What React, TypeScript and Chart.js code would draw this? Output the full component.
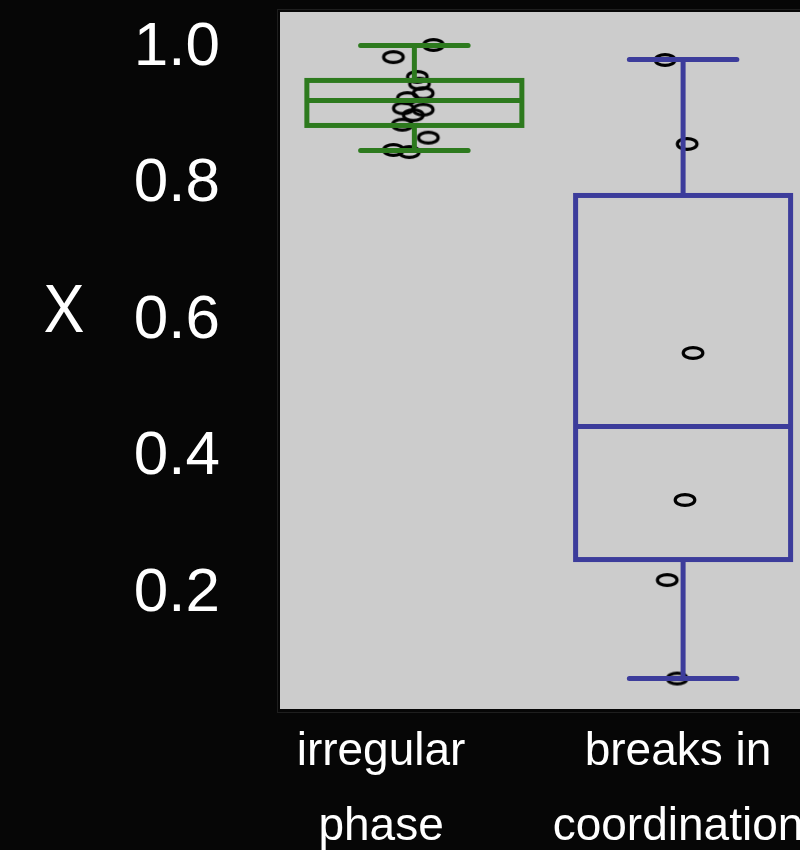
import React, { useEffect, useRef } from "react";
import { Chart, registerables } from "chart.js";
Chart.register(...registerables);

// ---- data ----
const categoryLabels = [["irregular", "phase"], ["breaks in", "coordination"]];
const categoryPositions = [1, 2];
const labelPositions = [0.876, 1.981];
const yTickValues = [0.2, 0.4, 0.6, 0.8, 1.0];
const yAxisTitle = "X";

const irregularValues = [1.0007, 0.983, 0.954, 0.944, 0.93, 0.923, 0.908, 0.906, 0.898, 0.884, 0.865, 0.847, 0.844];
const irregularJitter = [1.071, 0.922, 1.011, 1.019, 1.033, 0.974, 0.959, 1.033, 0.996, 0.955, 1.052, 0.922, 0.981];
const breaksValues = [0.9788, 0.8558, 0.5498, 0.3346, 0.2174, 0.0732];
const breaksJitter = [1.933, 2.015, 2.037, 2.007, 1.941, 1.978];

// [whisker low, q1, median, q3, whisker high]
const irregularBox = [0.8463, 0.8829, 0.9195, 0.9488, 1.0];
const breaksBox = [0.0732, 0.2474, 0.4422, 0.7804, 0.9795];
const boxStats = [irregularBox, breaksBox];
const boxColors = ["#2d7a1e", "#3c3c9b"];

const FONT = "'Liberation Sans', Arial, Helvetica, sans-serif";

function makeEllipse(): HTMLCanvasElement {
  const c = document.createElement("canvas");
  c.width = 28;
  c.height = 18;
  const g = c.getContext("2d")!;
  g.strokeStyle = "#000";
  g.lineWidth = 3.2;
  g.beginPath();
  g.ellipse(14, 9, 9.8, 5.4, 0, 0, Math.PI * 2);
  g.stroke();
  return c;
}

const bgPlugin = {
  id: "bg",
  beforeDraw(chart: any) {
    const { ctx, chartArea: a, width, height } = chart;
    ctx.save();
    ctx.fillStyle = "#060606";
    ctx.fillRect(0, 0, width, height);
    ctx.strokeStyle = "#1e1e1e";
    ctx.lineWidth = 1;
    ctx.strokeRect(a.left - 2.5, a.top - 2.5, a.right - a.left + 10, a.bottom - a.top + 6);
    ctx.fillStyle = "#cccccc";
    ctx.fillRect(a.left, a.top, a.right - a.left, a.bottom - a.top);
    ctx.restore();
  },
  afterDraw(chart: any) {
    const { ctx } = chart;
    ctx.save();
    ctx.fillStyle = "#ffffff";
    ctx.font = "66px 'Noto Sans', " + FONT;
    ctx.textAlign = "center";
    ctx.textBaseline = "alphabetic";
    ctx.fillText(yAxisTitle, 64, 332);
    ctx.restore();
  },
};

const boxPlugin = {
  id: "boxes",
  afterDatasetsDraw(chart: any) {
    const { ctx } = chart;
    const x = chart.scales.x;
    const y = chart.scales.y;
    boxStats.forEach((b, i) => {
      const c = categoryPositions[i];
      const l = x.getPixelForValue(c - 0.4);
      const r = x.getPixelForValue(c + 0.4);
      const cl = x.getPixelForValue(c - 0.2);
      const cr = x.getPixelForValue(c + 0.2);
      const cx = x.getPixelForValue(c);
      const [lo, q1, med, q3, hi] = b.map((v) => y.getPixelForValue(v));
      ctx.save();
      ctx.strokeStyle = boxColors[i];
      ctx.lineWidth = 5;
      ctx.lineJoin = "miter";
      ctx.strokeRect(l, q3, r - l, q1 - q3);
      ctx.beginPath();
      ctx.moveTo(l, med);
      ctx.lineTo(r, med);
      ctx.moveTo(cx, q3);
      ctx.lineTo(cx, hi);
      ctx.moveTo(cx, q1);
      ctx.lineTo(cx, lo);
      ctx.stroke();
      ctx.lineCap = "round";
      ctx.beginPath();
      ctx.moveTo(cl, hi);
      ctx.lineTo(cr, hi);
      ctx.moveTo(cl, lo);
      ctx.lineTo(cr, lo);
      ctx.stroke();
      ctx.restore();
    });
  },
};

export default function App() {
  const ref = useRef<HTMLCanvasElement>(null);
  useEffect(() => {
    document.body.style.margin = "0";
    document.body.style.background = "#060606";
    const ellipse = makeEllipse();
    const chart = new Chart(ref.current!, {
      type: "scatter",
      data: {
        datasets: [
          {
            data: irregularValues.map((v, i) => ({ x: irregularJitter[i], y: v })),
            pointStyle: ellipse as any,
            pointRadius: 8,
          },
          {
            data: breaksValues.map((v, i) => ({ x: breaksJitter[i], y: v })),
            pointStyle: ellipse as any,
            pointRadius: 8,
          },
        ],
      },
      options: {
        animation: false,
        responsive: false,
        devicePixelRatio: 1,
        layout: { autoPadding: false, padding: { top: 12, left: 0, right: 0, bottom: 0 } },
        plugins: { legend: { display: false }, tooltip: { enabled: false } },
        scales: {
          x: {
            type: "linear",
            min: 0.5,
            max: 2.435,
            grid: { display: false, drawTicks: false },
            border: { display: false },
            afterBuildTicks: (s: any) => {
              s.ticks = labelPositions.map((v) => ({ value: v }));
            },
            afterFit: (s: any) => {
              s.height = 141;
              s.paddingLeft = 0;
              s.paddingRight = 0;
            },
            ticks: {
              autoSkip: false,
              maxRotation: 0,
              minRotation: 0,
              padding: 6,
              color: "#ffffff",
              font: { family: FONT, size: 46, lineHeight: 1.63 },
              callback: (_v: any, i: number) => categoryLabels[i],
            },
          },
          y: {
            type: "linear",
            min: 0.0286,
            max: 1.049,
            grid: { display: false, drawTicks: false },
            border: { display: false },
            afterBuildTicks: (s: any) => {
              s.ticks = yTickValues.map((v) => ({ value: v }));
            },
            afterFit: (s: any) => {
              s.width = 280;
              s.paddingTop = 0;
              s.paddingBottom = 0;
            },
            ticks: {
              padding: 60,
              labelOffset: 2,
              color: "#ffffff",
              font: { family: FONT, size: 62 },
              callback: (v: any) => Number(v).toFixed(1),
            },
          },
        },
      },
      plugins: [bgPlugin, boxPlugin],
    });
    return () => chart.destroy();
  }, []);
  return (
    <div style={{ width: 800, height: 850 }}>
      <canvas ref={ref} width={800} height={850} style={{ display: "block" }} />
    </div>
  );
}
